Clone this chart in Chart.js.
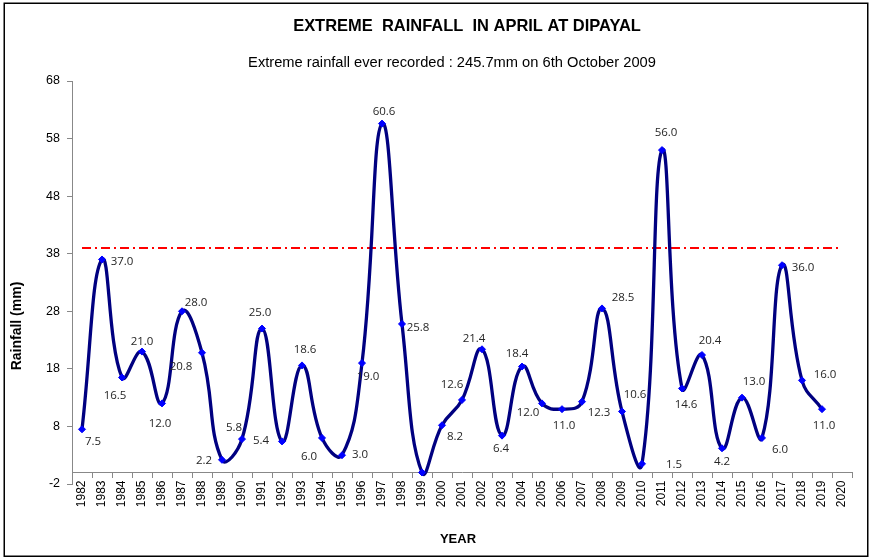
<!DOCTYPE html>
<html><head><meta charset="utf-8">
<script src="https://cdn.jsdelivr.net/npm/chart.js@4/dist/chart.umd.min.js"></script>
<style>html,body{margin:0;padding:0;background:#fff;}#wrap{width:872px;height:558px;}</style>
</head><body><div id="wrap"><canvas id="c" width="872" height="558"></canvas></div>
<script>
const years = ['1982','1983','1984','1985','1986','1987','1988','1989','1990','1991','1992','1993','1994','1995','1996','1997','1998','1999','2000','2001','2002','2003','2004','2005','2006','2007','2008','2009','2010','2011','2012','2013','2014','2015','2016','2017','2018','2019','2020'];
const rainfall = [7.5, 37.0, 16.5, 21.0, 12.0, 28.0, 20.8, 2.2, 5.8, 25.0, 5.4, 18.6, 6.0, 3.0, 19.0, 60.6, 25.8, 0.0, 8.2, 12.6, 21.4, 6.4, 18.4, 12.0, 11.0, 12.3, 28.5, 10.6, 1.5, 56.0, 14.6, 20.4, 4.2, 13.0, 6.0, 36.0, 16.0, 11.0];
const yTickValues = [-2, 8, 18, 28, 38, 48, 58, 68];
const thresholdValue = 39;
const titleText = 'EXTREME  RAINFALL  IN APRIL AT DIPAYAL';
const subtitleText = 'Extreme rainfall ever recorded : 245.7mm on 6th October 2009';
const yTitleText = 'Rainfall (mm)';
const xTitleText = 'YEAR';
// label placement offsets (pixels) relative to each point; null = no label
const labelOffsets = [[11,12],[20,2],[-7,18],[0,-10],[-2,20],[14,-9],[-21,14],[-18,1],[-8,-11],[-2,-16],[-21,-1],[3,-16],[-13,19],[18,0],[6,14],[2,-12],[16,4],null,[13,11],[-10,-15],[-8,-11],[-1,13],[-5,-13],[-14,9],[2,17],[17,11],[21,-11],[13,-17],[32,1],[4,-17],[4,16],[8,-14],[0,13],[12,-16],[18,12],[21,2],[23,-6],[2,17]];

function fitSize(ctx, text, weight, family, target) {
  ctx.font = weight + ' 100px ' + family;
  return 100 * target / ctx.measureText(text).width;
}

const decor = {
  id: 'decor',
  beforeDraw(chart) {
    const ctx = chart.ctx;
    ctx.save();
    ctx.fillStyle = '#fff';
    ctx.fillRect(0, 0, chart.width, chart.height);
    ctx.restore();
  },
  afterDraw(chart) {
    const ctx = chart.ctx;
    ctx.save();
    // border
    ctx.strokeStyle = '#000';
    ctx.lineWidth = 1.5;
    ctx.strokeRect(4.25, 3.25, 863.5, 553);
    // titles
    ctx.fillStyle = '#000';
    ctx.textAlign = 'center';
    ctx.textBaseline = 'alphabetic';
    let s = fitSize(ctx, titleText, 'bold', '"Liberation Sans", Arial, sans-serif', 348);
    ctx.font = 'bold ' + s.toFixed(2) + 'px "Liberation Sans", Arial, sans-serif';
    ctx.fillText(titleText, 467, 31);
    s = fitSize(ctx, subtitleText, 'normal', '"Liberation Sans", Arial, sans-serif', 408);
    ctx.font = 'normal ' + s.toFixed(2) + 'px "Liberation Sans", Arial, sans-serif';
    ctx.fillText(subtitleText, 452, 67);
    ctx.font = 'bold 13px "Liberation Sans", Arial, sans-serif';
    ctx.fillText(xTitleText, 458, 543);
    ctx.save();
    ctx.translate(20.5, 326);
    ctx.rotate(-Math.PI / 2);
    ctx.font = 'bold 14px "Liberation Sans", Arial, sans-serif';
    ctx.fillText(yTitleText, 0, 0);
    ctx.restore();
    // data labels
    const meta = chart.getDatasetMeta(1);
    ctx.font = '11.5px "Open Sans", sans-serif';
    ctx.fillStyle = '#262626';
    ctx.textBaseline = 'middle';
    meta.data.forEach((pt, i) => {
      const off = labelOffsets[i];
      if (!off) return;
      ctx.fillText(rainfall[i].toFixed(1), pt.x + off[0], pt.y + off[1]);
    });
    ctx.restore();
  }
};

new Chart(document.getElementById('c'), {
  type: 'line',
  data: {
    labels: years,
    datasets: [
      {
        data: [{x: years[0], y: thresholdValue}, {x: years[years.length - 1], y: thresholdValue}],
        borderColor: '#FF0000',
        borderWidth: 2,
        borderDash: [9, 4, 2, 4],
        pointRadius: 0,
        fill: false,
        order: 2
      },
      {
        data: rainfall,
        borderColor: '#000080',
        borderWidth: 3.3,
        tension: 0.45,
        pointStyle: 'rectRot',
        pointRadius: 3.5,
        pointBackgroundColor: '#0000FF',
        pointBorderColor: '#0000FF',
        pointBorderWidth: 1,
        fill: false,
        order: 1
      }
    ]
  },
  options: {
    responsive: false,
    animation: false,
    devicePixelRatio: 1,
    layout: { padding: { top: 81, right: 20, bottom: 74, left: 0 } },
    plugins: { legend: { display: false }, tooltip: { enabled: false }, title: { display: false } },
    scales: {
      x: {
        type: 'category',
        offset: true,
        position: { y: 0 },
        grid: { drawOnChartArea: false, drawTicks: true, tickLength: 5, color: '#888', offset: true },
        border: { color: '#888', width: 1 },
        ticks: {
          autoSkip: false, minRotation: 90, maxRotation: 90, padding: 3,
          color: '#000', font: { family: '"Liberation Sans", Arial, sans-serif', size: 12 }
        }
      },
      y: {
        min: -2, max: 68,
        afterBuildTicks(scale) { scale.ticks = yTickValues.map(v => ({ value: v })); },
        afterFit(scale) { scale.width = 72; },
        grid: { drawOnChartArea: false, drawTicks: true, tickLength: 5, color: '#888' },
        border: { color: '#888', width: 1 },
        ticks: {
          padding: 7, color: '#000',
          font: { family: '"Liberation Sans", Arial, sans-serif', size: 12.5 }
        }
      }
    }
  },
  plugins: [decor]
});
</script>
</body></html>
